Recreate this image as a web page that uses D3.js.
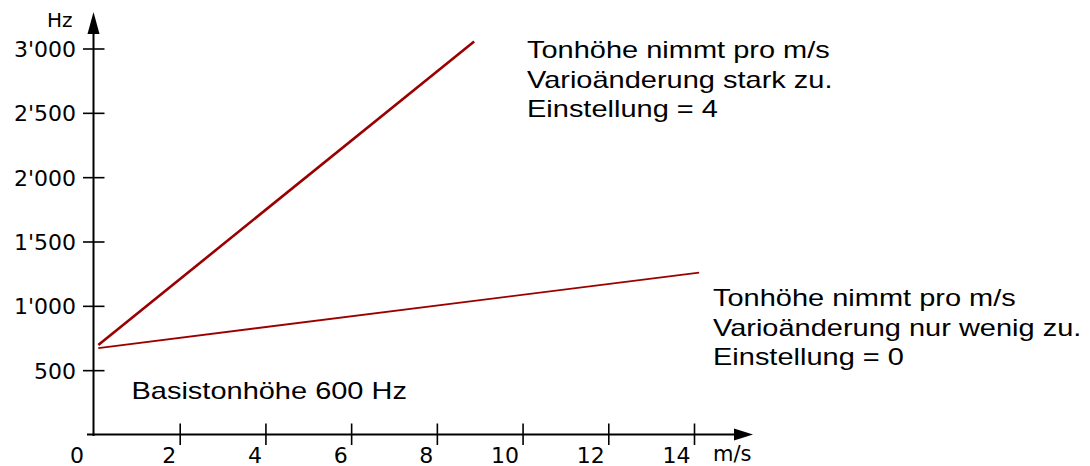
<!DOCTYPE html>
<html>
<head>
<meta charset="utf-8">
<script src="https://cdn.jsdelivr.net/npm/d3@7"></script>
<style>
  body { margin: 0; background: #fff; }
  svg { display: block; }
</style>
</head>
<body>
<div id="chart"></div>
<script>
// axis ticks
var xTicks = [2, 4, 6, 8, 10, 12, 14];
var xTickLabels = ["0", "2", "4", "6", "8", "10", "12", "14"];
var yTicks = [500, 1000, 1500, 2000, 2500, 3000];
var yTickLabels = ["500", "1'000", "1'500", "2'000", "2'500", "3'000"];

// the two lines: m/s -> Hz
var steepX = [0.1, 8.87];
var steepHz = [695, 3055];
var flatX = [0.1, 14.12];
var flatHz = [672, 1258];

// annotation texts
var steepNote = ["Tonhöhe nimmt pro m/s", "Varioänderung stark zu.", "Einstellung = 4"];
var flatNote = ["Tonhöhe nimmt pro m/s", "Varioänderung nur wenig zu.", "Einstellung = 0"];
var baseNote = "Basistonhöhe 600 Hz";

var width = 1090, height = 466;
var lineColor = "#9b0000";
var axisFont = "'DejaVu Sans', Verdana, sans-serif";
var noteFont = "'Liberation Sans', Arial, sans-serif";

var svg = d3.select("#chart").append("svg")
    .attr("width", width)
    .attr("height", height);

var x = d3.scaleLinear().domain([0, 14]).range([94, 694]);
var y = d3.scaleLinear().domain([0, 3000]).range([434.5, 48.5]);

// y axis ticks + labels
var yAxis = svg.append("g")
    .attr("transform", "translate(93.5,0)")
    .call(d3.axisLeft(y).tickValues(yTicks).tickFormat(function (d, i) { return yTickLabels[i]; }));
yAxis.select(".domain").remove();
yAxis.selectAll(".tick line")
    .attr("x1", -10.5).attr("x2", 11)
    .attr("stroke", "#000").attr("stroke-width", 1.6);
yAxis.selectAll(".tick text")
    .attr("x", -17.5)
    .attr("dy", "0.36em")
    .attr("fill", "#000")
    .style("font-family", axisFont)
    .style("font-size", "22px");

// x axis ticks + labels
var xAxis = svg.append("g")
    .attr("transform", "translate(0,434.5)")
    .call(d3.axisBottom(x).tickValues([0].concat(xTicks)).tickFormat(function (d, i) { return xTickLabels[i]; }));
xAxis.select(".domain").remove();
xAxis.selectAll(".tick line")
    .attr("y1", -11).attr("y2", 10.5)
    .attr("stroke", "#000").attr("stroke-width", 1.6)
    .filter(function (d) { return d == 0; }).remove();
xAxis.selectAll(".tick text")
    .attr("text-anchor", "end")
    .attr("x", function (d) { return d == 0 ? -10.5 : -4; })
    .attr("y", 28)
    .attr("dy", 0)
    .attr("fill", "#000")
    .style("font-family", axisFont)
    .style("font-size", "22px");

// axis lines with arrow heads
svg.append("line")
    .attr("x1", 93.5).attr("y1", 436).attr("x2", 93.5).attr("y2", 30)
    .attr("stroke", "#000").attr("stroke-width", 2);
svg.append("path")
    .attr("d", "M93.5,12 L87.5,34 L99.5,34 Z")
    .attr("fill", "#000");
svg.append("line")
    .attr("x1", 87).attr("y1", 434.5).attr("x2", 738).attr("y2", 434.5)
    .attr("stroke", "#000").attr("stroke-width", 2);
svg.append("path")
    .attr("d", "M753,434.5 L734,428.5 L734,440.5 Z")
    .attr("fill", "#000");

// axis titles
svg.append("text")
    .attr("x", 72.5).attr("y", 27)
    .attr("text-anchor", "end")
    .style("font-family", axisFont)
    .style("font-size", "20px")
    .text("Hz");
svg.append("text")
    .attr("x", 713).attr("y", 461)
    .style("font-family", axisFont)
    .style("font-size", "21px")
    .text("m/s");

// the lines
var line = d3.line()
    .x(function (d) { return x(d[0]); })
    .y(function (d) { return y(d[1]); });

svg.append("path")
    .datum(d3.zip(steepX, steepHz))
    .attr("d", line)
    .attr("fill", "none")
    .attr("stroke", lineColor)
    .attr("stroke-width", 2.6);

svg.append("path")
    .datum(d3.zip(flatX, flatHz))
    .attr("d", line)
    .attr("fill", "none")
    .attr("stroke", lineColor)
    .attr("stroke-width", 1.8);

// notes (the original text is stretched wide)
function addNote(lines, left, firstBaseline, spacing) {
    var g = svg.append("g");
    lines.forEach(function (t, i) {
        g.append("text")
            .attr("transform", "translate(" + left + "," + (firstBaseline + i * spacing) + ") scale(1.26,1)")
            .style("font-family", noteFont)
            .style("font-size", "23px")
            .attr("fill", "#000")
            .text(t);
    });
}
addNote(steepNote, 527, 58.3, 29.5);
addNote(flatNote, 713, 306, 29.5);
addNote([baseNote], 131.5, 399, 0);
</script>
</body>
</html>
